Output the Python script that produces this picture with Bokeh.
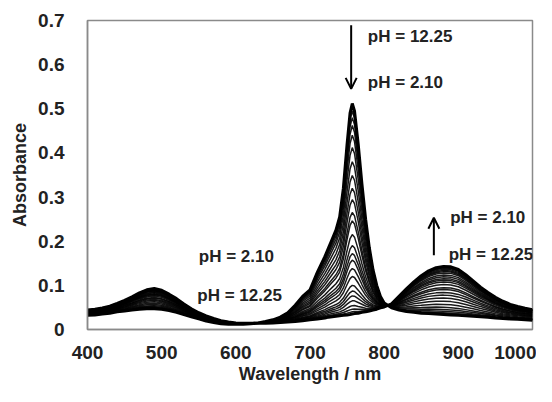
from bokeh.plotting import figure
from bokeh.models import Range1d, FixedTicker, Arrow, OpenHead, ColumnDataSource
from bokeh.core.properties import value
from bokeh.embed import file_html
from bokeh.resources import INLINE

# Wavelength grid (nm)
wavelength = [400, 410, 420, 430, 440, 450, 460, 470, 480, 490, 500, 510, 520, 530, 540,
              550, 560, 570, 580, 590, 600, 610, 620, 630, 640, 650, 660, 670, 680, 690,
              700, 710, 720, 725, 730, 735, 740, 745, 750, 754, 757, 760, 765, 770, 775,
              780, 785, 790, 795, 800, 810, 820, 830, 840, 850, 860, 870, 880, 890, 900,
              910, 920, 930, 940, 950, 960, 970, 980, 990, 1000]

# Spectrum at pH = 12.25
abs_ph12 = [0.032, 0.033, 0.035, 0.037, 0.040, 0.042, 0.044, 0.046, 0.047, 0.047, 0.046, 0.043, 0.039, 0.034, 0.029,
            0.024, 0.019, 0.016, 0.013, 0.012, 0.012, 0.012, 0.013, 0.015, 0.018, 0.022, 0.028, 0.038, 0.055, 0.075,
            0.090, 0.130, 0.165, 0.185, 0.205, 0.225, 0.255, 0.320, 0.420, 0.490, 0.512, 0.495, 0.420, 0.330, 0.250,
            0.185, 0.135, 0.100, 0.075, 0.060, 0.049, 0.044, 0.041, 0.039, 0.037, 0.036, 0.035, 0.034, 0.033, 0.032,
            0.031, 0.030, 0.029, 0.028, 0.026, 0.025, 0.024, 0.023, 0.022, 0.021]

# Spectrum at pH = 2.10
abs_ph2 = [0.044, 0.046, 0.049, 0.053, 0.059, 0.066, 0.074, 0.083, 0.090, 0.093, 0.089, 0.080, 0.070, 0.058, 0.047,
           0.038, 0.031, 0.025, 0.020, 0.017, 0.015, 0.014, 0.014, 0.014, 0.014, 0.015, 0.016, 0.017, 0.018, 0.020,
           0.022, 0.024, 0.026, 0.028, 0.029, 0.030, 0.031, 0.032, 0.033, 0.034, 0.035, 0.036, 0.037, 0.039, 0.040,
           0.042, 0.044, 0.046, 0.049, 0.051, 0.058, 0.075, 0.092, 0.108, 0.122, 0.133, 0.140, 0.143, 0.142, 0.136,
           0.124, 0.110, 0.096, 0.084, 0.073, 0.064, 0.057, 0.052, 0.048, 0.045]

# Absorbance at 757 nm for each titration spectrum, pH 12.25 -> pH 2.10
peak_757 = [0.512, 0.505, 0.495, 0.480, 0.462, 0.440, 0.412, 0.380, 0.349, 0.320, 0.294, 0.265,
            0.246, 0.215, 0.190, 0.172, 0.157, 0.138, 0.120, 0.100, 0.087, 0.076, 0.065, 0.054,
            0.046, 0.040, 0.035]

# Annotations
label_texts = ["pH = 12.25", "pH = 2.10", "pH = 2.10", "pH = 12.25", "pH = 2.10", "pH = 12.25"]
label_x = [778, 778, 889, 887, 550, 548]
label_y = [0.663, 0.560, 0.253, 0.170, 0.165, 0.076]
arrow_x = [755.5, 867]
arrow_y_start = [0.689, 0.168]
arrow_y_end = [0.545, 0.253]

x_ticks = [400, 500, 600, 700, 800, 900, 1000]
y_ticks = [0, 0.1, 0.2, 0.3, 0.4, 0.5, 0.6, 0.7]
y_tick_labels = ["0", "0.1", "0.2", "0.3", "0.4", "0.5", "0.6", "0.7"]

p = figure(width=536, height=386, output_backend="svg", toolbar_location=None,
           x_range=Range1d(400, 1000), y_range=Range1d(0, 0.7),
           min_border_left=87, min_border_right=4, min_border_top=20, min_border_bottom=52)
p.background_fill_color = "white"
p.border_fill_color = "white"
p.outline_line_color = "#8a8a8a"
p.outline_line_width = 1.5
p.xgrid.visible = False
p.ygrid.visible = False

a_hi = abs_ph12[wavelength.index(757)]
a_lo = abs_ph2[wavelength.index(757)]
n = len(peak_757)
order = list(range(1, n - 1)) + [0, n - 1]
for i in order:
    f = (peak_757[i] - a_lo) / (a_hi - a_lo)
    ys = [b + f * (a - b) for a, b in zip(abs_ph12, abs_ph2)]
    extreme = i in (0, n - 1)
    p.line(wavelength, ys, line_color="black", line_width=3.0 if extreme else 1.5,
           line_alpha=1.0 if extreme else 0.9)

src = ColumnDataSource(dict(x=label_x, y=label_y, t=label_texts))
p.text(x="x", y="y", text="t", source=src, text_font=value("Liberation Sans"),
       text_font_style="bold", text_font_size="17px", text_color="#222222",
       text_align="left", text_baseline="middle")

for xa, ys_, ye in zip(arrow_x, arrow_y_start, arrow_y_end):
    p.add_layout(Arrow(end=OpenHead(size=11, line_width=2, line_color="black"),
                       x_start=xa, y_start=ys_, x_end=xa, y_end=ye,
                       line_width=2, line_color="black"))

for ax in (p.xaxis, p.yaxis):
    ax.axis_line_color = "#8a8a8a"
    ax.axis_line_width = 1.5
    ax.major_tick_line_color = None
    ax.minor_tick_line_color = None
    ax.major_label_text_font = "Liberation Sans"
    ax.major_label_text_font_style = "bold"
    ax.major_label_text_font_size = "19px"
    ax.major_label_text_color = "#222222"
    ax.axis_label_text_font = "Liberation Sans"
    ax.axis_label_text_font_style = "bold"
    ax.axis_label_text_font_size = "18px"
    ax.axis_label_text_color = "#222222"

p.xaxis.ticker = FixedTicker(ticks=x_ticks)
p.yaxis.ticker = FixedTicker(ticks=y_ticks)
p.yaxis.major_label_overrides = {t: l for t, l in zip(y_ticks, y_tick_labels)}
p.xaxis.axis_label = "Wavelength / nm"
p.yaxis.axis_label = "Absorbance"
p.xaxis.major_label_standoff = 10
p.yaxis.major_label_standoff = 17
p.xaxis.axis_label_standoff = 2
p.yaxis.axis_label_standoff = 5

open("out.html", "w").write(file_html(p, INLINE))
